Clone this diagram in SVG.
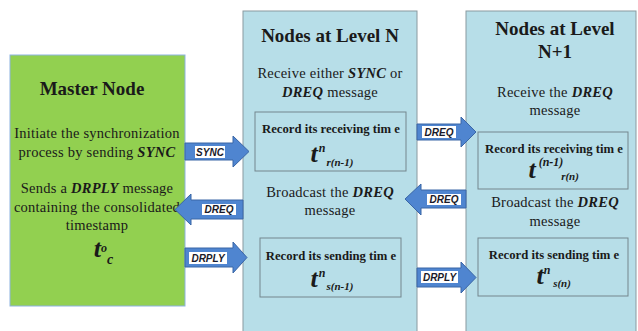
<svg xmlns="http://www.w3.org/2000/svg" width="638" height="331" viewBox="0 0 638 331">
<style>
.title{font-size:19px;font-weight:bold}
.body{font-size:14.5px;letter-spacing:0.25px}
.bi{font-weight:bold;font-style:italic}
.rec{font-size:12.7px;font-weight:bold}
.big{font-size:26px;font-weight:bold;font-style:italic}
.sup{font-size:12px;font-weight:bold;font-style:italic}
.sub{font-size:11px;font-weight:bold;font-style:italic}
.panel{fill:#B7DEE8;stroke:#8A9AA0;stroke-width:1}
.inner{fill:none;stroke:#74868D;stroke-width:1}
.arrow{fill:#4F85D0;stroke:#3A66A6;stroke-width:1}
.lbg{fill:#ffffff}
.lbl{font-size:10px;font-weight:bold;font-style:italic}
</style>
<rect width="638" height="331" fill="#ffffff"/>
<g id="master" fill="#1a1a1a" text-anchor="middle">
<rect x="10" y="55" width="175" height="251" fill="#92D050" stroke="#8DB3E2" stroke-width="1"/>
<text font-family="Liberation Serif" class="title" x="92" y="95">Master Node</text>
<text font-family="Liberation Serif" class="body" x="97" y="138">Initiate the synchronization</text>
<text font-family="Liberation Serif" class="body" x="97" y="157">process by sending <tspan class="bi">SYNC</tspan></text>
<text font-family="Liberation Serif" class="body" x="97" y="193">Sends a <tspan class="bi">DRPLY</tspan> message</text>
<text font-family="Liberation Serif" class="body" x="97" y="212">containing the consolidated</text>
<text font-family="Liberation Serif" class="body" x="97" y="230">timestamp</text>
<text font-family="Liberation Serif" class="big" x="101" y="257" text-anchor="end">t</text>
<text font-family="Liberation Serif" class="sup" x="104" y="252">o</text>
<text font-family="Liberation Serif" class="sub" x="110" y="264" style="font-size:14px">c</text>
</g>
<g id="levelN" fill="#1a1a1a" text-anchor="middle">
<rect class="panel" x="243" y="11" width="174" height="325"/>
<text font-family="Liberation Serif" class="title" x="330" y="42">Nodes at Level N</text>
<text font-family="Liberation Serif" class="body" x="330" y="78">Receive either <tspan class="bi">SYNC</tspan> or</text>
<text font-family="Liberation Serif" class="body" x="330" y="97"><tspan class="bi">DREQ</tspan> message</text>
<rect class="inner" x="255" y="112" width="151" height="59"/>
<text font-family="Liberation Serif" class="rec" x="331" y="133">Record its receiving tim e</text>
<text font-family="Liberation Serif" class="big" x="314" y="162">t</text>
<text font-family="Liberation Serif" class="sup" x="322" y="152">n</text>
<text font-family="Liberation Serif" class="sub" x="340" y="166">r(n-1)</text>
<text font-family="Liberation Serif" class="body" x="330" y="197">Broadcast the <tspan class="bi">DREQ</tspan></text>
<text font-family="Liberation Serif" class="body" x="330" y="215">message</text>
<rect class="inner" x="260" y="238" width="141" height="59"/>
<text font-family="Liberation Serif" class="rec" x="331" y="260">Record its sending tim e</text>
<text font-family="Liberation Serif" class="big" x="314" y="287">t</text>
<text font-family="Liberation Serif" class="sup" x="322" y="277">n</text>
<text font-family="Liberation Serif" class="sub" x="340" y="290">s(n-1)</text>
</g>
<g id="levelN1" fill="#1a1a1a" text-anchor="middle">
<rect class="panel" x="466" y="11" width="170" height="325"/>
<text font-family="Liberation Serif" class="title" x="555" y="35">Nodes at Level</text>
<text font-family="Liberation Serif" class="title" x="555" y="58">N+1</text>
<text font-family="Liberation Serif" class="body" x="555" y="97">Receive the <tspan class="bi">DREQ</tspan></text>
<text font-family="Liberation Serif" class="body" x="555" y="115">message</text>
<rect class="inner" x="478" y="132" width="150" height="57"/>
<text font-family="Liberation Serif" class="rec" x="554" y="153">Record its receiving tim e</text>
<text font-family="Liberation Serif" class="big" x="532" y="178">t</text>
<text font-family="Liberation Serif" class="sup" x="551" y="166">(n-1)</text>
<text font-family="Liberation Serif" class="sub" x="570" y="180">r(n)</text>
<text font-family="Liberation Serif" class="body" x="555" y="207">Broadcast the <tspan class="bi">DREQ</tspan></text>
<text font-family="Liberation Serif" class="body" x="555" y="226">message</text>
<rect class="inner" x="478" y="238" width="150" height="58"/>
<text font-family="Liberation Serif" class="rec" x="554" y="259">Record its sending tim e</text>
<text font-family="Liberation Serif" class="big" x="540" y="284">t</text>
<text font-family="Liberation Serif" class="sup" x="547" y="274">n</text>
<text font-family="Liberation Serif" class="sub" x="562" y="287">s(n)</text>
</g>
<g id="connectors" fill="#1a1a2a" text-anchor="middle">
<polygon class="arrow" points="185,143 233,143 233,136 249,151.5 233,167 233,160 185,160"/>
<rect class="lbg" x="195" y="146" width="30" height="12"/>
<text font-family="Liberation Sans" class="lbl" x="210" y="155.5">SYNC</text>
<polygon class="arrow" points="243,200 191,200 191,194 175,209.5 191,225 191,219 243,219"/>
<rect class="lbg" x="202" y="204" width="34" height="11"/>
<text font-family="Liberation Sans" class="lbl" x="219" y="213">DREQ</text>
<polygon class="arrow" points="185,248 233,248 233,242 247,257.5 233,273 233,267 185,267"/>
<rect class="lbg" x="189" y="252" width="38" height="12"/>
<text font-family="Liberation Sans" class="lbl" x="208" y="261.5">DRPLY</text>
<polygon class="arrow" points="417,124 461,124 461,117 476,132 461,147 461,140 417,140"/>
<rect class="lbg" x="422" y="126" width="34" height="12"/>
<text font-family="Liberation Sans" class="lbl" x="439" y="135.5">DREQ</text>
<polygon class="arrow" points="466,190 421,190 421,184 405,199 421,215 421,208 466,208"/>
<rect class="lbg" x="427" y="194" width="34" height="11"/>
<text font-family="Liberation Sans" class="lbl" x="444" y="203">DREQ</text>
<polygon class="arrow" points="417,268 461,268 461,262 476,277.5 461,293 461,287 417,287"/>
<rect class="lbg" x="421" y="271" width="37" height="12"/>
<text font-family="Liberation Sans" class="lbl" x="439.5" y="280.5">DRPLY</text>
</g>
</svg>
